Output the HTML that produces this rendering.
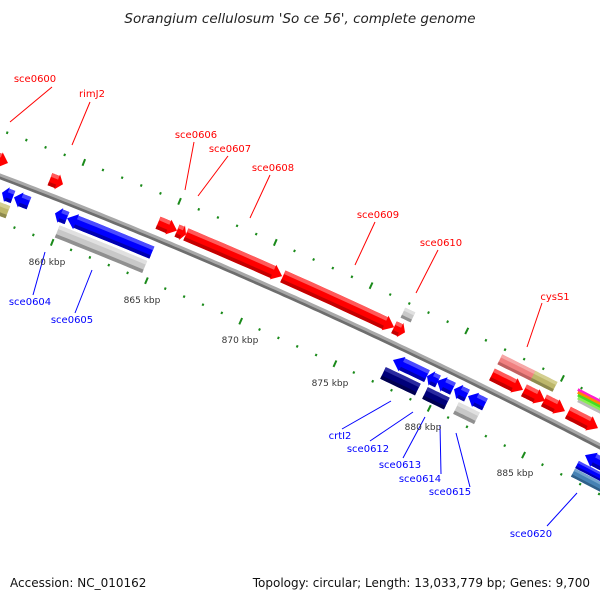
<!DOCTYPE html>
<html><head><meta charset="utf-8"><style>
body{margin:0;background:#fff;}
svg{display:block;}
text{font-family:"DejaVu Sans","Liberation Sans",sans-serif;}
</style></head><body>
<svg id="s" width="600" height="600" viewBox="0 0 600 600" xmlns="http://www.w3.org/2000/svg">
<text x="300" y="23" text-anchor="middle" font-size="13.5" font-style="italic" fill="#222">Sorangium cellulosum 'So ce 56', complete genome</text>
<text x="10" y="587" font-size="12" fill="#111">Accession: NC_010162</text>
<text x="590" y="587" text-anchor="end" font-size="12" fill="#111">Topology: circular; Length: 13,033,779 bp; Genes: 9,700</text>
<g id="bb"></g>
<g id="ft"></g>
<g id="tk"></g>
<g font-size="10" fill="#f00" stroke="none">
<text x="35" y="82" text-anchor="middle">sce0600</text>
<text x="92" y="97" text-anchor="middle">rimJ2</text>
<text x="196" y="138" text-anchor="middle">sce0606</text>
<text x="230" y="152" text-anchor="middle">sce0607</text>
<text x="273" y="171" text-anchor="middle">sce0608</text>
<text x="378" y="218" text-anchor="middle">sce0609</text>
<text x="441" y="246" text-anchor="middle">sce0610</text>
<text x="555" y="300" text-anchor="middle">cysS1</text>
</g>
<g stroke="#f00" stroke-width="1">
<line x1="52" y1="87" x2="10" y2="122"/><line x1="90" y1="102" x2="72" y2="145"/>
<line x1="194" y1="142" x2="185" y2="190"/><line x1="228" y1="156" x2="198" y2="196"/>
<line x1="270" y1="175" x2="250" y2="218"/><line x1="375" y1="222" x2="355" y2="265"/>
<line x1="438" y1="250" x2="416" y2="293"/><line x1="542" y1="303" x2="527" y2="347"/>
</g>
<g font-size="10" fill="#00f">
<text x="30" y="305" text-anchor="middle">sce0604</text>
<text x="72" y="323" text-anchor="middle">sce0605</text>
<text x="340" y="439" text-anchor="middle">crtI2</text>
<text x="368" y="452" text-anchor="middle">sce0612</text>
<text x="400" y="468" text-anchor="middle">sce0613</text>
<text x="420" y="482" text-anchor="middle">sce0614</text>
<text x="450" y="495" text-anchor="middle">sce0615</text>
<text x="531" y="537" text-anchor="middle">sce0620</text>
</g>
<g stroke="#00f" stroke-width="1">
<line x1="45" y1="252" x2="33" y2="295"/><line x1="92" y1="270" x2="75" y2="313"/>
<line x1="391" y1="401" x2="342" y2="429"/><line x1="413" y1="412" x2="370" y2="441"/>
<line x1="425" y1="417" x2="403" y2="458"/><line x1="440" y1="425" x2="441" y2="474"/>
<line x1="456" y1="433" x2="470" y2="487"/><line x1="577" y1="493" x2="547" y2="526"/>
</g>
<g font-size="9" fill="#333" text-anchor="middle">
<text x="47" y="265">860 kbp</text><text x="142" y="303">865 kbp</text>
<text x="240" y="343">870 kbp</text><text x="330" y="386">875 kbp</text>
<text x="423" y="430">880 kbp</text><text x="515" y="476">885 kbp</text>
</g>
</svg>
<script>
var NS="http://www.w3.org/2000/svg";
function Y(x){var t=x/600;return 176*(1-t)*(1-t)+580*t*(1-t)+446*t*t;}
function S(x){return 0.38+0.14*x/600;}
function N(x){var s=S(x),l=Math.sqrt(1+s*s);return [s/l,-1/l];}
function P(b,o){var n=N(b);return [b+n[0]*o,Y(b)+n[1]*o];}
function el(g,tag,a){var e=document.createElementNS(NS,tag);for(var k in a)e.setAttribute(k,a[k]);document.getElementById(g).appendChild(e);return e;}
function pts(a){return a.map(function(p){return p[0].toFixed(1)+","+p[1].toFixed(1)}).join(" ");}
var d1="",d2="";for(var x=-5;x<=605;x+=5){var p=P(x,-1.2),q=P(x,1);d1+=(x<0?"M":"L")+p[0].toFixed(1)+","+p[1].toFixed(1);d2+=(x<0?"M":"L")+q[0].toFixed(1)+","+q[1].toFixed(1);}
el("bb","path",{d:d1,stroke:"#6e6e6e","stroke-width":4,fill:"none"});
el("bb","path",{d:d2,stroke:"#a8a8a8","stroke-width":3,fill:"none"});
function strip(b0,b1,o0,o1){var a=[],c=[];for(var i=0;i<=8;i++){var b=b0+(b1-b0)*i/8;a.push(P(b,o0));c.unshift(P(b,o1));}return a.concat(c);}
function feat(x0,x1,o,h,col,lt,dk,dir){
 var sh=N((x0+x1)/2)[0]*o;var b0=x0-sh,b1=x1-sh;var len=b1-b0;var L=Math.min(9,len*0.45);
 var c0=b0,c1=b1,top=o+h/2,bot=o-h/2;
 if(dir==1)c1=b1-L;if(dir==-1)c0=b0+L;
 var shape=strip(c0,c1,top,bot);
 if(dir==1){var q=shape.slice(0,9),r=shape.slice(9);shape=q.concat([P(c1,top+1.5),P(b1,o),P(c1,bot-1.5)]).concat(r);}
 if(dir==-1){var q=shape.slice(0,9),r=shape.slice(9);shape=q.concat(r).concat([P(c0,bot-1.5),P(b0,o),P(c0,top+1.5)]);}
 el("ft","polygon",{points:pts(shape),fill:col});
 el("ft","polygon",{points:pts(strip(c0,c1,top,top-h*0.3)),fill:lt});
 el("ft","polygon",{points:pts(strip(c0,c1,bot+h*0.28,bot)),fill:dk});
}
var R=["#ff0000","#ff5a5a","#c40000"],B=["#0000ff","#4a4aff","#0000b0"],NV=["#00007a","#2a2aa0","#000050"],G=["#c8c8c8","#e0e0e0","#909090"],PK=["#f08080","#f6a8a8","#c06060"],KH=["#bdb76b","#d4cf90","#8e8a4e"],SB=["#4682b4","#74a4cc","#30608a"];
var r1=15,r2=32,d1o=-15,d2o=-31,h=13;
function F(a,b,o,c,dir,hh){feat(a,b,o,hh||h,c[0],c[1],c[2],dir);}
F(-10,8,r1,R,1);F(50,63,r1,R,1);F(158,177,r1,R,1);F(177,186,r1,R,1);F(186,282,r1,R,1);F(283,394,r1,R,1);F(394,405,r1,R,1);
F(403,413,r2,G,0,11);F(500,535,r2,PK,0,11);F(533,555,r2,KH,0,11);
F(492,523,r1,R,1);F(524,545,r1,R,1);F(544,565,r1,R,1);F(568,598,r1,R,1);
var st=[["#ff22cc",40],["#ff8800",37.5],["#44dd22",35],["#88ee55",32.5],["#bbbbbb",30]];
st.forEach(function(s){feat(578,610,s[1],2.6,s[0],s[0],s[0],0);});
F(2,13,d1o,B,-1);F(14,29,d1o,B,-1);F(-10,8,d2o,KH,0);
F(55,67,d1o,B,-1);F(67,152,d1o,B,-1);F(57,145,d2o,G,0);
F(393,427,d1o,B,-1);F(383,418,d2o,NV,0);F(427,438,d1o,B,-1);F(437,453,d1o,B,-1);F(454,467,d1o,B,-1);F(468,485,d1o,B,-1);
F(425,447,d2o,NV,0);F(456,477,d2o,G,0);
F(585,610,d1o,B,-1);F(577,610,-27,B,0,8);F(573,610,-36,SB,0,9);
for(var k=855;k<=892;k++){var b=68+(k-860)*19;var big=(k%5==0);var l=big?3.5:1.2;
 [43,-43].forEach(function(o){var p=P(b,o-l),q=P(b,o+l);el("tk","line",{x1:p[0].toFixed(1),y1:p[1].toFixed(1),x2:q[0].toFixed(1),y2:q[1].toFixed(1),stroke:"#1a8a1a","stroke-width":2});});}
</script>
</body></html>
